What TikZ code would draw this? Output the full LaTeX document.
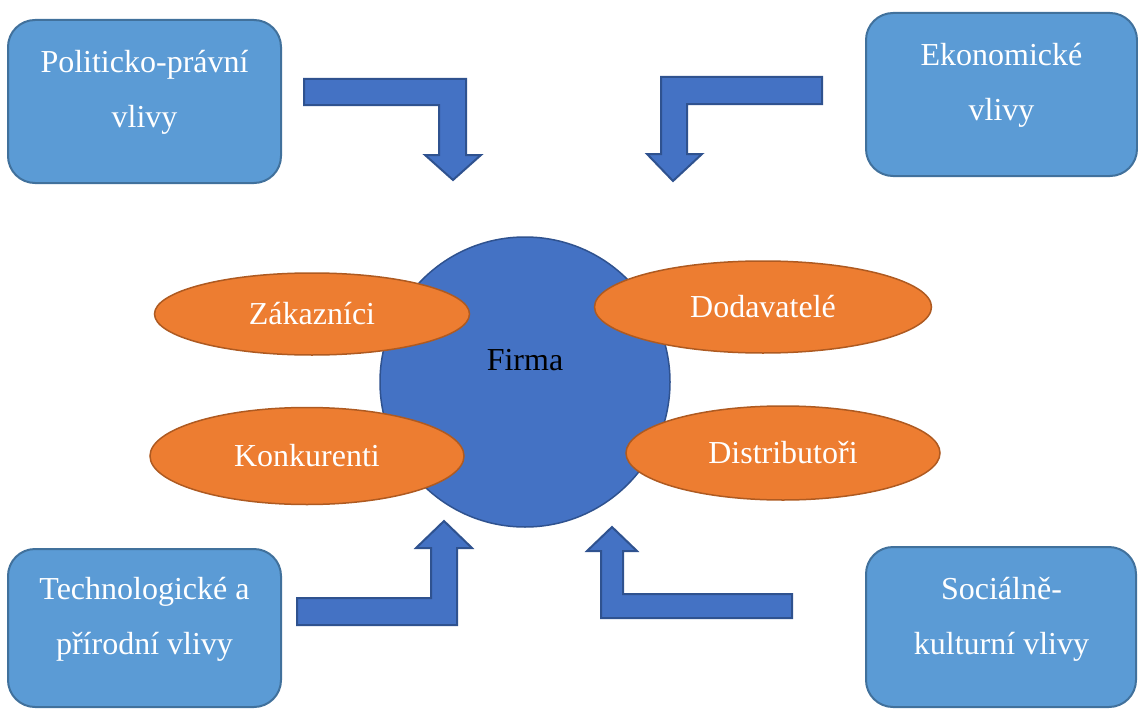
\documentclass[tikz,border=0pt]{standalone}
\usepackage{fontspec}
\setmainfont{Liberation Serif}
\usetikzlibrary{shapes.geometric}
\definecolor{boxfill}{HTML}{5B9BD5}
\definecolor{boxline}{HTML}{41719C}
\definecolor{bluefill}{HTML}{4472C4}
\definecolor{blueline}{HTML}{2F528F}
\definecolor{orfill}{HTML}{ED7D31}
\definecolor{orline}{HTML}{AE5A21}
\tikzset{
  x=1pt, y=-1pt,
  boxstyle/.style={draw=boxline, fill=boxfill, line width=2pt, rounded corners=27pt, inner sep=0pt},
  boxtext/.style={text=white, align=center, font=\fontsize{32}{55}\selectfont, inner sep=0pt},
  bentarrow/.style={draw=blueline, fill=bluefill, line width=2pt, line join=miter},
  firmacircle/.style={circle, draw=blueline, fill=bluefill, line width=1.5pt, minimum size=290pt, inner sep=0pt},
  actor/.style={ellipse, draw=orline, fill=orfill, line width=1.5pt, inner sep=0pt, text=white, font=\fontsize{32}{38}\selectfont},
}
\begin{document}
\begin{tikzpicture}
\useasboundingbox (0,0) rectangle (1138,709);
% boxes
\node[boxstyle, minimum width=273pt, minimum height=163pt] (pol) at (144.5,101.5) {};
\node[boxtext] (poltext) at (144.5,92) {Politicko-právní\\vlivy};
\node[boxstyle, minimum width=271pt, minimum height=163pt] (eko) at (1001.5,94.5) {};
\node[boxtext] (ekotext) at (1001.5,85) {Ekonomické\\vlivy};
\node[boxstyle, minimum width=273pt, minimum height=158pt] (tech) at (144.5,628) {};
\node[boxtext] (techtext) at (144.5,619) {Technologické a\\přírodní vlivy};
\node[boxstyle, minimum width=270pt, minimum height=160pt] (soc) at (1001,627) {};
\node[boxtext] (soctext) at (1001.5,619) {Sociálně-\\kulturní vlivy};
% bent arrows
\draw[bentarrow] (304,79) -- (466,79) -- (466,155) -- (481,155) -- (453,180) -- (425,155) -- (439,155) -- (439,105) -- (304,105) -- cycle;
\draw[bentarrow] (822,77) -- (661,77) -- (661,154) -- (647,154) -- (673,181) -- (702,154) -- (687,154) -- (687,104) -- (822,104) -- cycle;
\draw[bentarrow] (297,625) -- (457,625) -- (457,548) -- (472,548) -- (444,521) -- (416,548) -- (431,548) -- (431,598) -- (297,598) -- cycle;
\draw[bentarrow] (601,618) -- (792,618) -- (792,594) -- (623,594) -- (623,551) -- (637,551) -- (612,527) -- (587,551) -- (601,551) -- cycle;
% circle
\node[firmacircle] (firma) at (525,382) {};
\node[text=black, font=\fontsize{32}{38}\selectfont, inner sep=0pt] (firmatext) at (525,360) {Firma};
% ellipses
\node[actor, minimum width=315pt, minimum height=82pt] (zak) at (312,314) {Zákazníci};
\node[actor, minimum width=337pt, minimum height=92pt] (dod) at (763,307) {Dodavatelé};
\node[actor, minimum width=314pt, minimum height=97pt] (kon) at (307,456) {Konkurenti};
\node[actor, minimum width=314pt, minimum height=94pt] (dis) at (783,453) {Distributoři};
\end{tikzpicture}
\end{document}
